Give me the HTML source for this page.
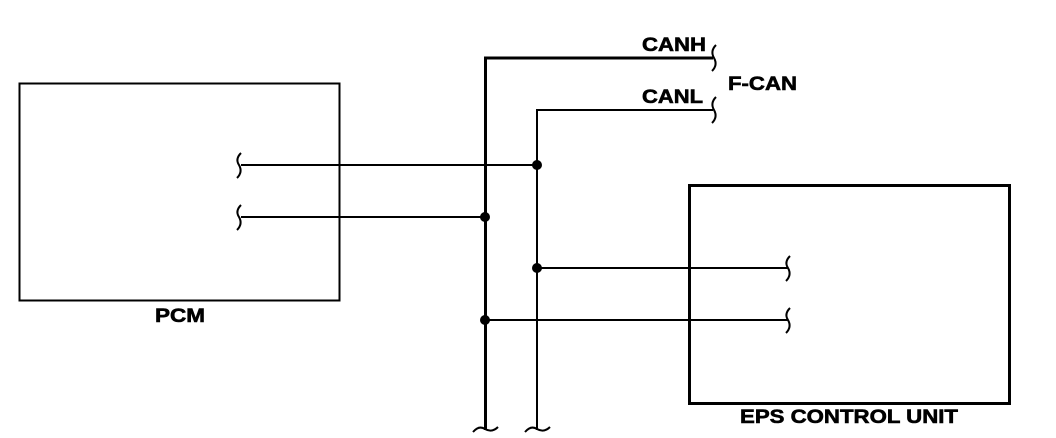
<!DOCTYPE html>
<html><head><style>
html,body{margin:0;padding:0;background:#fff;width:1056px;height:438px;overflow:hidden}
text{font-family:"Liberation Sans",Arial,sans-serif;font-weight:bold;font-size:19px;fill:#000;stroke:#000;stroke-width:0.6}
</style></head><body>
<svg width="1056" height="438" viewBox="0 0 1056 438" xmlns="http://www.w3.org/2000/svg">
<g fill="none" stroke="#000">
<rect x="19.5" y="83.5" width="320" height="217" stroke-width="2"/>
<rect x="689.5" y="185.5" width="320" height="218" stroke-width="3"/>
<path d="M485.5 430 V58 H713" stroke-width="3"/>
<path d="M537 430 V110 H713" stroke-width="2"/>
<path d="M241 165 H537 M241 217 H485 M537 268 H788 M485 320 H788" stroke-width="2"/>
<g stroke-width="2">
<path d="M716 45 q-6 6 -2 13 q4 7 -2 13"/>
<path d="M716 97 q-6 6 -2 13 q4 7 -2 13"/>
<path d="M241 153 q-6 6 -2 12 q4 7 -2 13"/>
<path d="M241 205 q-6 6 -2 12 q4 7 -2 13"/>
<path d="M790 256 q-6 6 -2 12 q4 7 -2 13"/>
<path d="M790 308 q-6 6 -2 12 q4 7 -2 13"/>
<path d="M473 432 q6 -7 12 -3 q7 4 13 -2"/>
<path d="M525 432 q6 -7 12 -3 q7 4 13 -2"/>
</g>
</g>
<g fill="#000">
<circle cx="537" cy="165" r="5"/>
<circle cx="485" cy="217" r="5"/>
<circle cx="537" cy="268" r="5"/>
<circle cx="485" cy="320" r="5"/>
</g>
<text x="642" y="51" textLength="64" lengthAdjust="spacingAndGlyphs">CANH</text>
<text x="642" y="103" textLength="61" lengthAdjust="spacingAndGlyphs">CANL</text>
<text x="728" y="90" textLength="69" lengthAdjust="spacingAndGlyphs">F-CAN</text>
<text x="155" y="322" textLength="50" lengthAdjust="spacingAndGlyphs">PCM</text>
<text x="740" y="423" textLength="218" lengthAdjust="spacingAndGlyphs">EPS CONTROL UNIT</text>
</svg>
</body></html>
